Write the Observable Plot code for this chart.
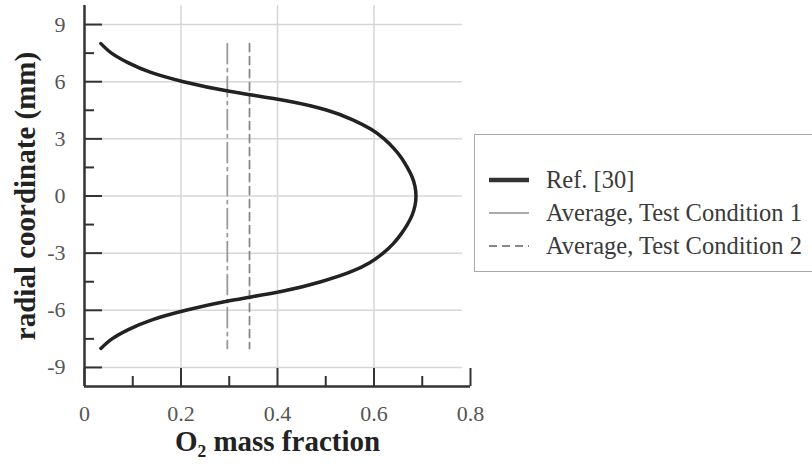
<!DOCTYPE html>
<html>
<head>
<meta charset="utf-8">
<script src="https://cdn.jsdelivr.net/npm/d3@7"></script>
<script src="https://cdn.jsdelivr.net/npm/@observablehq/plot@0.6"></script>
<style>
  html, body { margin: 0; padding: 0; background: #fff; overflow: hidden; }
  #wrap { position: relative; width: 812px; height: 470px; }
  #legend {
    position: absolute; left: 474px; top: 134px; width: 360px; height: 138px;
    border: 1.5px solid #aaa; box-sizing: border-box; background: #fff;
    font-family: "Liberation Serif", "Times New Roman", serif; font-size: 24.5px; color: #3a3a3a;
  }
  .row { position: absolute; left: 14px; height: 30px; display: flex; align-items: center; white-space: nowrap; }
  .row svg { margin-right: 17px; }
</style>
</head>
<body>
<div id="wrap">
  <div id="chart"></div>
  <div id="legend"></div>
</div>
<script>
// ---- data ----
const refY = [8, 7.5, 7, 6.5, 6, 5.5, 5, 4.5, 4, 3.5, 3, 2.5, 2, 1.5, 1, 0.5, 0,
              -0.5, -1, -1.5, -2, -2.5, -3, -3.5, -4, -4.5, -5, -5.5, -6, -6.5, -7, -7.5, -8];
const refX = [0.034, 0.056, 0.09, 0.136, 0.205, 0.30, 0.418, 0.503, 0.556, 0.594, 0.621, 0.641, 0.657, 0.669, 0.679, 0.685, 0.687,
              0.685, 0.679, 0.669, 0.656, 0.640, 0.619, 0.591, 0.550, 0.490, 0.410, 0.30, 0.21, 0.14, 0.092, 0.057, 0.034];
const cond1X = 0.296;
const cond2X = 0.342;
const avgY = [8, -8];
const seriesNames = ["Ref. [30]", "Average, Test Condition 1", "Average, Test Condition 2"];
const xMajor = [0, 0.2, 0.4, 0.6, 0.8];
const xMinor = [0.1, 0.3, 0.5, 0.7];
const xGrid = [0.2, 0.4, 0.6];
const yMajor = [-9, -6, -3, 0, 3, 6, 9];
const yMinor = [-7.5, -4.5, -1.5, 1.5, 4.5, 7.5];
const xLabel = "O\u2082 mass fraction";
const yLabel = "radial coordinate (mm)";

const refData = refY.map((y, i) => ({x: refX[i], y}));
const c1Data = avgY.map(y => ({x: cond1X, y}));
const c2Data = avgY.map(y => ({x: cond2X, y}));

const serif = "'Liberation Serif', 'Times New Roman', serif";
const axisColor = "#333";

const chart = Plot.plot({
  width: 812, height: 470,
  marginLeft: 84, marginRight: 342, marginTop: 5, marginBottom: 84,
  x: {domain: [0, 0.8]},
  y: {domain: [-10, 10]},
  style: {fontFamily: serif, background: "#fff"},
  marks: [
    Plot.gridX(xGrid, {stroke: "#d6d6d6", strokeOpacity: 1, strokeWidth: 1.5}),
    Plot.gridY(yMajor, {stroke: "#d6d6d6", strokeOpacity: 1, strokeWidth: 1.5, insetRight: 8}),
    // ticks (inward)
    Plot.axisX(xMajor, {tickSize: -18, tickFormat: () => "", label: null, stroke: axisColor, strokeWidth: 2}),
    Plot.axisX(xMinor, {tickSize: -10, tickFormat: () => "", label: null, stroke: axisColor, strokeWidth: 2}),
    Plot.axisY(yMajor, {tickSize: -18, tickFormat: () => "", label: null, stroke: axisColor, strokeWidth: 2}),
    Plot.axisY(yMinor, {tickSize: -10, tickFormat: () => "", label: null, stroke: axisColor, strokeWidth: 2}),
    // tick labels
    Plot.axisX(xMajor, {tickSize: 0, tickPadding: 19, fontSize: 22, fill: "#555", label: null, tickFormat: d => d === 0 ? "0" : d3.format(".1f")(d)}),
    Plot.axisY(yMajor, {tickSize: 0, tickPadding: 19, fontSize: 22, fill: "#555", label: null, tickFormat: d => String(d)}),
    // axis lines
    Plot.ruleY([-10], {stroke: axisColor, strokeWidth: 2.5}),
    Plot.ruleX([0], {stroke: axisColor, strokeWidth: 2.5}),
    // data
    Plot.line(c1Data, {x: "x", y: "y", stroke: "#999", strokeWidth: 1.8, strokeDasharray: "20,5,3,5"}),
    Plot.line(c2Data, {x: "x", y: "y", stroke: "#888", strokeWidth: 1.8, strokeDasharray: "8,5"}),
    Plot.line(refData, {x: "x", y: "y", stroke: "#222", strokeWidth: 3.5, curve: "natural"}),
    // axis titles
    Plot.text([xLabel], {frameAnchor: "bottom", dy: 64, fontSize: 29, fontWeight: "bold", fill: "#222", text: d => d}),
    Plot.text([yLabel], {frameAnchor: "left", dx: -59, rotate: -90, textAnchor: "middle", fontSize: 29, fontWeight: "bold", fill: "#222", text: d => d})
  ]
});
document.getElementById("chart").appendChild(chart);

// legend
const styles = [
  {stroke: "#333", width: 4.5, dash: null},
  {stroke: "#aaa", width: 2, dash: null},
  {stroke: "#888", width: 2, dash: "8,5"}
];
const rowTops = [30, 63, 96];
const legend = d3.select("#legend");
seriesNames.forEach((name, i) => {
  const row = legend.append("div").attr("class", "row").style("top", rowTops[i] + "px");
  const s = row.append("svg").attr("width", 40).attr("height", 10);
  s.append("line").attr("x1", 0).attr("x2", 40).attr("y1", 5).attr("y2", 5)
    .attr("stroke", styles[i].stroke).attr("stroke-width", styles[i].width)
    .attr("stroke-dasharray", styles[i].dash);
  row.append("span").text(name);
});
</script>
</body>
</html>
